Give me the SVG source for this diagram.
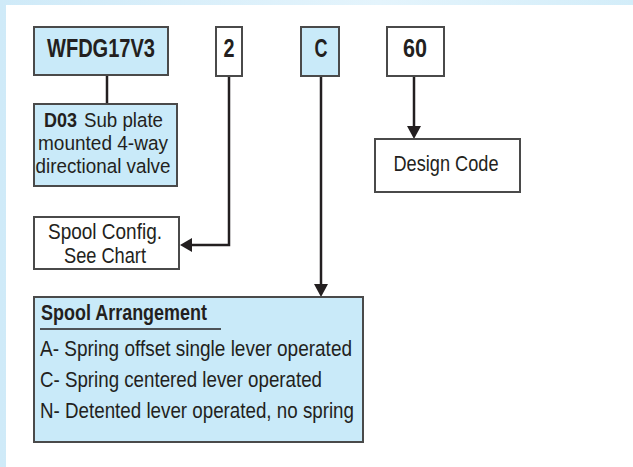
<svg xmlns="http://www.w3.org/2000/svg" width="633" height="467" viewBox="0 0 633 467">
<defs>
<linearGradient id="bg" x1="0" y1="0" x2="1" y2="0">
<stop offset="0" stop-color="#cfeaf8"/>
<stop offset="0.6" stop-color="#e4f4fc"/>
<stop offset="1" stop-color="#d3edf9"/>
</linearGradient>
</defs>
<style>
.blue{fill:#c9eaf9;stroke:#4a4a4a;stroke-width:2}
.white{fill:#ffffff;stroke:#4a4a4a;stroke-width:2}
.t{font-family:"Liberation Sans",Arial,sans-serif;fill:#231f20;font-size:22px}
.s{font-size:20.5px}
.b{font-weight:bold}
.code{font-size:25px;font-weight:bold;text-anchor:middle}
.c{text-anchor:middle}
.ln{fill:none;stroke:#231f20;stroke-width:2.5}
.ah{fill:#231f20}
</style>
<rect x="0" y="0" width="633" height="467" fill="url(#bg)"/>
<rect x="6" y="5" width="627" height="462" fill="#ffffff"/>

<g id="connectors">
<line class="ln" x1="107" y1="76" x2="107" y2="104"/>
<polyline class="ln" points="229,76 229,245 190,245"/>
<path class="ah" d="M180,245 L192,238 L192,252 z"/>
<line class="ln" x1="321" y1="76" x2="321" y2="285"/>
<path class="ah" d="M321,297 L314,284 L328,284 z"/>
<line class="ln" x1="414" y1="76" x2="414" y2="127"/>
<path class="ah" d="M414,139 L407,126 L421,126 z"/>
</g>

<g id="node-wfdg">
<rect class="blue" x="34" y="27" width="134" height="48"/>
<text class="t code" x="101" y="57" textLength="108" lengthAdjust="spacingAndGlyphs">WFDG17V3</text>
</g>
<g id="node-2">
<rect class="white" x="216" y="27" width="26" height="49"/>
<text class="t code" x="229" y="57" textLength="11" lengthAdjust="spacingAndGlyphs">2</text>
</g>
<g id="node-c">
<rect class="blue" x="301" y="27" width="38" height="49"/>
<text class="t code" x="321" y="57" textLength="13" lengthAdjust="spacingAndGlyphs">C</text>
</g>
<g id="node-60">
<rect class="white" x="387" y="27" width="57" height="49"/>
<text class="t code" x="415" y="57" textLength="24" lengthAdjust="spacingAndGlyphs">60</text>
</g>
<g id="node-d03">
<rect class="blue" x="34" y="104" width="143" height="82"/>
<text class="t s b" x="44" y="127" textLength="33" lengthAdjust="spacingAndGlyphs">D03</text>
<text class="t s" x="84" y="127" textLength="79" lengthAdjust="spacingAndGlyphs">Sub plate</text>
<text class="t s c" x="103" y="150" textLength="130" lengthAdjust="spacingAndGlyphs">mounted 4-way</text>
<text class="t s c" x="103" y="173" textLength="135" lengthAdjust="spacingAndGlyphs">directional valve</text>
</g>
<g id="node-spool-config">
<rect class="white" x="34" y="217" width="145" height="52"/>
<text class="t c" x="105" y="239" textLength="114" lengthAdjust="spacingAndGlyphs">Spool Config.</text>
<text class="t c" x="105" y="263" textLength="82" lengthAdjust="spacingAndGlyphs">See Chart</text>
</g>
<g id="node-design-code">
<rect class="white" x="375" y="139" width="145" height="53"/>
<text class="t c" x="446" y="171" textLength="105" lengthAdjust="spacingAndGlyphs">Design Code</text>
</g>
<g id="node-spool-arrangement">
<rect class="blue" x="34" y="297" width="329" height="145"/>
<text class="t b" x="41" y="320" textLength="166" lengthAdjust="spacingAndGlyphs">Spool Arrangement</text>
<line x1="40" y1="329" x2="221" y2="329" stroke="#231f20" stroke-width="1.5"/>
<text class="t" x="40" y="356" textLength="312" lengthAdjust="spacingAndGlyphs">A- Spring offset single lever operated</text>
<text class="t" x="40" y="387" textLength="282" lengthAdjust="spacingAndGlyphs">C- Spring centered lever operated</text>
<text class="t" x="40" y="418" textLength="314" lengthAdjust="spacingAndGlyphs">N- Detented lever operated, no spring</text>
</g>
</svg>
